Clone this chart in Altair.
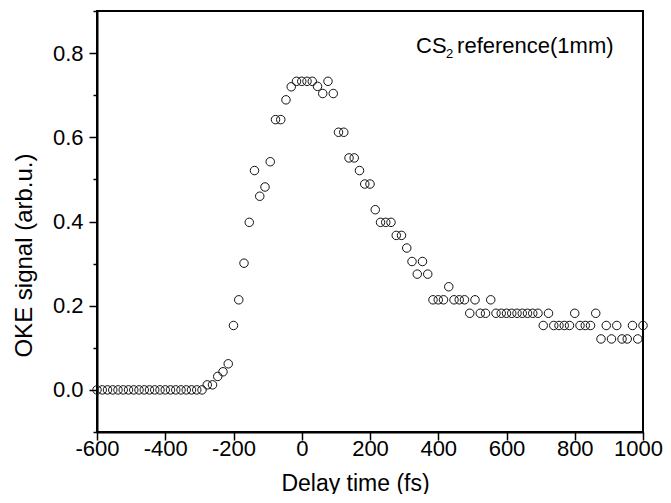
import altair as alt
import pandas as pd

# Delay times (fs)
delay = [
    -600.0, -584.6, -569.2, -553.8, -538.5, -523.1, -507.7, -492.3, -476.9, -461.5,
    -446.2, -430.8, -415.4, -400.0, -384.6, -369.2, -353.8, -338.5, -323.1, -307.7,
    -292.3, -276.9, -261.5, -246.2, -230.8, -215.4, -200.0, -184.6, -169.2, -153.8,
    -138.5, -123.1, -107.7, -92.3, -76.9, -61.5, -46.2, -30.8, -15.4, 0.0,
    15.4, 30.8, 46.2, 61.5, 76.9, 92.3, 107.7, 123.1, 138.5, 153.8,
    169.2, 184.6, 200.0, 215.4, 230.8, 246.2, 261.5, 276.9, 292.3, 307.7,
    323.1, 338.5, 353.8, 369.2, 384.6, 400.0, 415.4, 430.8, 446.2, 461.5,
    476.9, 492.3, 507.7, 523.1, 538.5, 553.8, 569.2, 584.6, 600.0, 615.4,
    630.8, 646.2, 661.5, 676.9, 692.3, 707.7, 723.1, 738.5, 753.8, 769.2,
    784.6, 800.0, 815.4, 830.8, 846.2, 861.5, 876.9, 892.3, 907.7, 923.1,
    938.5, 953.8, 969.2, 984.6, 1000.0,
]

# OKE signal (arb.u.)
signal = [
    0.0, 0.0, 0.0, 0.0, 0.0, 0.0, 0.0, 0.0, 0.0, 0.0,
    0.0, 0.0, 0.0, 0.0, 0.0, 0.0, 0.0, 0.0, 0.0, 0.0,
    0.0, 0.012, 0.012, 0.032, 0.043, 0.062, 0.153, 0.214, 0.301, 0.398,
    0.521, 0.460, 0.482, 0.542, 0.642, 0.642, 0.689, 0.720, 0.733, 0.733,
    0.733, 0.733, 0.721, 0.704, 0.733, 0.704, 0.612, 0.612, 0.551, 0.551,
    0.521, 0.489, 0.489, 0.428, 0.398, 0.398, 0.398, 0.367, 0.367, 0.337,
    0.305, 0.275, 0.305, 0.275, 0.214, 0.214, 0.214, 0.245, 0.214, 0.214,
    0.214, 0.182, 0.214, 0.182, 0.182, 0.214, 0.182, 0.182, 0.182, 0.182,
    0.182, 0.182, 0.182, 0.182, 0.182, 0.153, 0.182, 0.153, 0.153, 0.153,
    0.153, 0.182, 0.153, 0.153, 0.153, 0.182, 0.121, 0.153, 0.121, 0.153,
    0.121, 0.121, 0.153, 0.121, 0.153,
]

x_ticks = [-600, -500, -400, -300, -200, -100, 0, 100, 200, 300, 400, 500, 600, 700, 800, 900, 1000]
y_ticks = [-0.1, 0.0, 0.1, 0.2, 0.3, 0.4, 0.5, 0.6, 0.7, 0.8, 0.9]

annotation = ["CS", "2", "reference(1mm)"]

df = pd.DataFrame({"delay": delay, "signal": signal})
one = pd.DataFrame({"k": [0]})

FONT = "Liberation Sans"

x_axis = alt.Axis(
    values=x_ticks,
    labelExpr="datum.value % 200 === 0 ? '' + datum.value : ''",
    tickSize={"condition": {"test": "datum.value % 200 === 0", "value": 8}, "value": 4},
    labelOffset={"condition": {"test": "datum.value === 1000", "value": -5}, "value": 0},
    labelPadding=-2,
    labelFlush=False,
    labelOverlap=False,
    title="Delay time (fs)",
    titleFontSize=23,
    titleX=258,
    titleY=58,
    titleAlign="center",
    titleBaseline="alphabetic",
    grid=False,
)
y_axis = alt.Axis(
    values=y_ticks,
    labelExpr="round(datum.value * 10) % 2 === 0 ? format(datum.value, '.1f') : ''",
    tickSize={"condition": {"test": "round(datum.value * 10) % 2 === 0", "value": 8}, "value": 4},
    labelPadding=6,
    labelFlush=False,
    labelOverlap=False,
    title="OKE signal (arb.u.)",
    titleFontSize=24,
    titleX=-73,
    titleY=244,
    titleAngle=270,
    titleAlign="center",
    titleBaseline="middle",
    grid=False,
)

points = alt.Chart(df).mark_point(
    shape="circle", filled=False, size=72, stroke="#111111", strokeWidth=1, opacity=1
).encode(
    x=alt.X("delay:Q", scale=alt.Scale(domain=[-600, 1000], nice=False, zero=False), axis=x_axis),
    y=alt.Y("signal:Q", scale=alt.Scale(domain=[-0.1, 0.9], nice=False, zero=False), axis=y_axis),
)

ann_main = alt.Chart(one).mark_text(
    text=annotation[0], font=FONT, fontSize=22, align="left", baseline="alphabetic", color="black"
).encode(x=alt.datum(335), y=alt.datum(0.80))
ann_sub = alt.Chart(one).mark_text(
    text=annotation[1], font=FONT, fontSize=13, align="left", baseline="alphabetic", color="black", dx=30, dy=5
).encode(x=alt.datum(335), y=alt.datum(0.80))
ann_rest = alt.Chart(one).mark_text(
    text=annotation[2], font=FONT, fontSize=22, align="left", baseline="alphabetic", color="black", dx=41
).encode(x=alt.datum(335), y=alt.datum(0.80))

chart = alt.layer(points, ann_main, ann_sub, ann_rest).properties(
    width=546,
    height=421,
    autosize=alt.AutoSizeParams(type="none"),
    padding={"left": 89, "top": 3, "right": 20, "bottom": 62},
).configure_view(
    stroke="black", strokeWidth=2
).configure_axis(
    domainColor="black",
    domainWidth=2,
    tickColor="black",
    tickWidth=1.5,
    labelFont=FONT,
    labelFontSize=22,
    labelColor="black",
    titleFont=FONT,
    titleFontWeight="normal",
    titleColor="black",
)

chart.save("out.html", embed_options={"renderer": "svg", "actions": False})
